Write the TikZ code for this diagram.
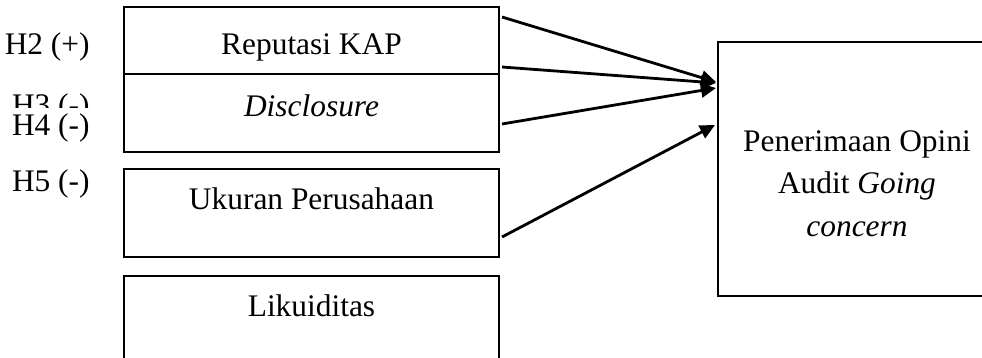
\documentclass[tikz,border=0pt]{standalone}
\usepackage{fontspec}
\setmainfont{Liberation Serif}
\usetikzlibrary{arrows.meta,fit}
\begin{document}
\begin{tikzpicture}[x=0.5pt,y=-0.5pt,
  box/.style={draw,line width=1pt,inner sep=0pt,rectangle},
  txt/.style={font=\fontsize{15.7}{21.25}\selectfont,inner sep=0pt},
  arr/.style={line width=1.4pt,-{Triangle[length=7.5pt,width=7pt]}}]
\clip (0,0) rectangle (982,358);
\fill[white] (0,0) rectangle (982,358);
% left boxes
\node[box,fit={(124,7)(499,74)}] (rep) {};
\node[box,fit={(124,74)(499,152)}] (dis) {};
\node[box,fit={(124,169)(499,257)}] (uku) {};
\node[box,fit={(124,276)(499,380)}] (lik) {};
% right box
\node[box,fit={(718,42)(996,296)}] (gc) {};
% texts in boxes
\node[txt,anchor=base] (trep) at (311.5,55) {Reputasi KAP};
\node[txt,anchor=base] (tdis) at (311.5,117) {\itshape Disclosure};
\node[txt,anchor=base] (tuku) at (311.5,210) {Ukuran Perusahaan};
\node[txt,anchor=base] (tlik) at (311.5,317) {Likuiditas};
\node[txt,anchor=base] (tgc1) at (857,152) {Penerimaan Opini};
\node[txt,anchor=base] (tgc2) at (857,194) {Audit \textit{Going}};
\node[txt,anchor=base] (tgc3) at (857,237) {\textit{concern}};
% hypothesis labels
\node[txt,anchor=base east] (h2) at (90,55) {H2 (+)};
\begin{scope}
\clip (0,0) rectangle (110,108);
\node[txt,anchor=base east] (h3) at (90,116) {H3 (-)};
\end{scope}
\node[txt,anchor=base east] (h4) at (90,136) {H4 (-)};
\node[txt,anchor=base east] (h5) at (90,192) {H5 (-)};
% arrow ends
\coordinate (s1) at (502,17);
\coordinate (s2) at (502,67);
\coordinate (s3) at (502,124);
\coordinate (s4) at (502,237);
\coordinate (t1) at (716,82);
\coordinate (t2) at (716,83);
\coordinate (t3) at (716,88);
\coordinate (t4) at (715,125);
\draw[arr] (s1) -- (t1);
\draw[arr] (s2) -- (t2);
\draw[arr] (s3) -- (t3);
\draw[arr] (s4) -- (t4);
\end{tikzpicture}
\end{document}
